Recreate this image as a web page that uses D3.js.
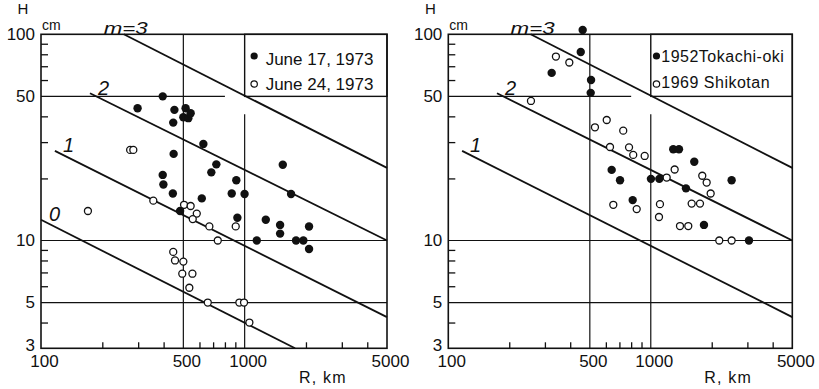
<!DOCTYPE html>
<html>
<head>
<meta charset="utf-8">
<script src="https://cdn.jsdelivr.net/npm/d3@7"></script>
<style>
  body { margin: 0; background: #fff; }
  text { font-family: "Liberation Sans", Arial, sans-serif; fill: #111; }
</style>
</head>
<body>
<svg id="chart" width="819" height="389"></svg>
<script>
// axis values
const majorR = [100, 500, 1000, 5000];
const minorR = [200, 300, 400, 600, 700, 800, 900, 2000, 3000, 4000];
const majorH = [3, 5, 10, 50, 100];
const minorH = [4, 6, 7, 8, 9, 20, 30, 40, 60, 70, 80, 90];
const gridH = [5, 10];
const gridR = [500];

// [R km, H cm]
const june17 = [[396, 50], [298, 43.8], [452, 43.0], [513, 43.8], [500, 39.6], [529, 39.2], [543, 41.4],
  [446, 37.3], [627, 29.4], [448, 26.3], [1539, 23.3], [726, 23.4], [686, 21.4], [396, 20.8], [910, 19.6],
  [399, 18.7], [444, 16.9], [864, 16.9], [999, 16.8], [1690, 16.8], [616, 16.0], [482, 13.9], [921, 12.9],
  [1270, 12.6], [1493, 11.9], [1493, 10.8], [2071, 11.7], [1147, 10], [1788, 10], [1942, 10], [2071, 9.1]];
const june24 = [[274, 27.5], [284, 27.5], [356, 15.6], [170, 13.9], [504, 14.9], [543, 14.7], [582, 13.5],
  [556, 12.7], [671, 11.7], [904, 11.7], [738, 10], [446, 8.8], [455, 8.0], [500, 7.9], [494, 6.9],
  [554, 6.9], [535, 5.9], [659, 5.0], [942, 5.0], [993, 5.0], [1055, 4.0]];
const tokachi = [[461, 105], [451, 82], [324, 65], [507, 60], [505, 52], [1291, 27.7], [1378, 27.7],
  [1640, 24.1], [641, 22.0], [705, 19.6], [1002, 19.9], [1102, 19.9], [1492, 17.9], [2508, 19.6],
  [814, 15.7], [1831, 11.9], [3055, 10]];
const shikotan = [[340, 78], [396, 73], [256, 47.5], [530, 35.4], [606, 38.4], [731, 34.1], [629, 28.4],
  [781, 28.3], [819, 26.0], [933, 25.7], [1198, 20.2], [1312, 22.1], [1796, 20.6], [1888, 19.1],
  [1976, 16.9], [653, 14.9], [852, 14.2], [1110, 15.0], [1098, 13.0], [1592, 15.1], [1750, 15.1],
  [1394, 11.75], [1532, 11.75], [2179, 10], [2508, 10]];

// m lines: label, start [R,H], end [R,H]
const mLabels = ['m=3', '2', '1', '0'];
const mStart = [[255, 100], [174, 51.8], [117, 27.2], [100, 12.6]];
const mEnd = [[5000, 22.5], [5000, 10], [5000, 4.25], [1768, 3]];

const legendLeft = ['June 17, 1973', 'June 24, 1973'];
const legendRight = ['1952Tokachi-oki', '1969 Shikotan'];

const svg = d3.select('#chart');
const yTop = 34.3, yBot = 348.3;
const ink = '#111';

function drawPanel(x0, x1, filled, open, names, nLines, leg) {
  let x = d3.scaleLog().domain([100, 5000]).range([x0, x1]);
  let y = d3.scaleLog().domain([3, 100]).range([yBot, yTop]);
  let g = svg.append('g');

  // grid lines
  g.selectAll('.gh').data(gridH).enter().append('line')
    .attr('x1', x(100)).attr('x2', x(5000))
    .attr('y1', d => y(d)).attr('y2', d => y(d))
    .attr('stroke', ink).attr('stroke-width', 1.2);
  g.selectAll('.gv').data(gridR).enter().append('line')
    .attr('x1', d => x(d)).attr('x2', d => x(d))
    .attr('y1', y(3)).attr('y2', y(100))
    .attr('stroke', ink).attr('stroke-width', 1.2);
  // broken ones
  g.append('line').attr('x1', x(100)).attr('x2', x(800)).attr('y1', y(50)).attr('y2', y(50))
    .attr('stroke', ink).attr('stroke-width', 1.2);
  g.append('line').attr('x1', x(1000)).attr('x2', x(1000)).attr('y1', y(3)).attr('y2', y(41))
    .attr('stroke', ink).attr('stroke-width', 1.2);

  // legend box
  g.append('rect')
    .attr('x', x(1000)).attr('y', y(100))
    .attr('width', x(5000) - x(1000)).attr('height', y(50) - y(100))
    .attr('fill', 'none').attr('stroke', ink).attr('stroke-width', 1.4);

  // minor ticks
  let tx = g.append('g').attr('transform', 'translate(0,' + yBot + ')')
    .call(d3.axisTop(x).tickValues(minorR).tickSize(6).tickFormat(''));
  tx.select('.domain').remove();
  tx.selectAll('line').attr('stroke', ink).attr('stroke-width', 1.3);
  let ty = g.append('g').attr('transform', 'translate(' + x0 + ',0)')
    .call(d3.axisRight(y).tickValues(minorH).tickSize(7).tickFormat(''));
  ty.select('.domain').remove();
  ty.selectAll('line').attr('stroke', ink).attr('stroke-width', 1.3);

  // tick labels
  let lx = g.append('g').attr('transform', 'translate(0,' + yBot + ')')
    .call(d3.axisBottom(x).tickValues(majorR).tickSize(0).tickPadding(7).tickFormat(d3.format('d')))
    .attr('font-family', '"Liberation Sans", Arial, sans-serif').attr('font-size', 17);
  lx.select('.domain').remove();
  lx.selectAll('text').attr('dx', 3);
  let ly = g.append('g').attr('transform', 'translate(' + x0 + ',0)')
    .call(d3.axisLeft(y).tickValues(majorH).tickSize(0).tickPadding(6).tickFormat(d3.format('d')))
    .attr('font-family', '"Liberation Sans", Arial, sans-serif').attr('font-size', 17);
  ly.select('.domain').remove();
  ly.selectAll('text').attr('dy', d => d === 3 ? '0.15em' : '0.28em');

  // frame
  g.append('rect')
    .attr('x', x0).attr('y', yTop).attr('width', x1 - x0).attr('height', yBot - yTop)
    .attr('fill', 'none').attr('stroke', ink).attr('stroke-width', 1.6);

  // m lines
  let idx = d3.range(nLines);
  g.selectAll('.mline').data(idx).enter().append('line')
    .attr('x1', i => x(mStart[i][0])).attr('y1', i => y(mStart[i][1]))
    .attr('x2', i => x(mEnd[i][0])).attr('y2', i => y(mEnd[i][1]))
    .attr('stroke', ink).attr('stroke-width', 1.8);
  g.selectAll('.mlab').data(idx).enter().append('text')
    .attr('x', i => x(mStart[i][0]) + (i === 0 ? -20 : 8))
    .attr('y', i => y(mStart[i][1]) + (i === 0 ? -0.5 : 1.5))
    .attr('font-style', 'italic')
    .attr('font-size', i => i === 0 ? 17 : 20)
    .attr('textLength', i => i === 0 ? 44 : null)
    .attr('lengthAdjust', 'spacingAndGlyphs')
    .text(i => mLabels[i]);

  // points
  g.selectAll('.open').data(open).enter().append('circle')
    .attr('cx', d => x(d[0])).attr('cy', d => y(d[1])).attr('r', 3.5)
    .attr('fill', '#fff').attr('stroke', ink).attr('stroke-width', 1.3);
  g.selectAll('.filled').data(filled).enter().append('circle')
    .attr('cx', d => x(d[0])).attr('cy', d => y(d[1])).attr('r', 4.2)
    .attr('fill', ink);

  // legend
  let lg = g.append('g').attr('transform', 'translate(' + x(1000) + ',0)');
  lg.append('circle').attr('cx', leg.dot).attr('cy', 56).attr('r', 3.6).attr('fill', ink);
  lg.append('circle').attr('cx', leg.dot).attr('cy', 84).attr('r', 3.2)
    .attr('fill', '#fff').attr('stroke', ink).attr('stroke-width', 1.2);
  lg.selectAll('.lt').data(names).enter().append('text')
    .attr('x', leg.text)
    .attr('y', (d, i) => i === 0 ? leg.y0 : leg.y1)
    .attr('font-size', leg.size)
    .attr('letter-spacing', leg.spacing)
    .text(d => d);

  // axis titles
  g.append('text').attr('x', x0 - 18).attr('y', 14).attr('text-anchor', 'middle')
    .attr('font-size', 15).text('H');
  g.append('text').attr('x', x0 + 1).attr('y', 30).attr('font-size', 14).text('cm');
  g.append('text').attr('x', x1 - 88).attr('y', 383).attr('font-size', 16)
    .attr('letter-spacing', 1.2).text('R, km');
}

drawPanel(41, 387, june17, june24, legendLeft, 4,
  {dot: 9.5, text: 21, y0: 64.5, y1: 90, size: 17, spacing: 0});
drawPanel(448.3, 792.3, tokachi, shikotan, legendRight, 3,
  {dot: 5.7, text: 10.5, y0: 61.6, y1: 87.6, size: 16, spacing: 0.5});
</script>
</body>
</html>
